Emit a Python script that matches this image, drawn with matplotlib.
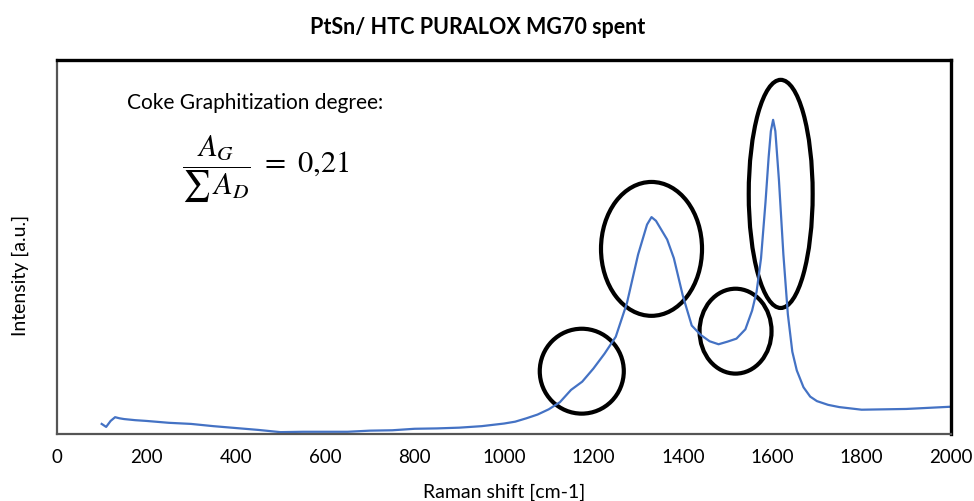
import matplotlib
matplotlib.use("Agg")
from matplotlib import pyplot as plt
from matplotlib.patches import Ellipse

# Raman spectrum (intensity in arbitrary units)
shift = [100, 110, 120, 130, 140, 150, 175, 200, 250, 300, 350, 400, 450, 500,
         550, 600, 650, 700, 750, 800, 850, 900, 950, 1000, 1025, 1050, 1075,
         1100, 1125, 1150, 1175, 1200, 1225, 1250, 1275, 1300, 1310, 1320, 1330,
         1340, 1350, 1365, 1380, 1400, 1420, 1440, 1460, 1480, 1500, 1520, 1540,
         1555, 1565, 1575, 1585, 1592, 1597, 1602, 1607, 1615, 1625, 1635, 1645,
         1655, 1670, 1685, 1700, 1725, 1750, 1800, 1850, 1900, 1950, 2000]
intensity = [2.7, 1.9, 3.5, 4.5, 4.2, 4.0, 3.7, 3.5, 3.0, 2.7, 2.1, 1.6, 1.1, 0.5,
             0.6, 0.6, 0.6, 0.9, 1.0, 1.4, 1.5, 1.7, 2.1, 2.8, 3.3, 4.2, 5.2,
             6.6, 8.5, 11.8, 14.0, 17.5, 21.5, 26.0, 35.0, 48.0, 52.0, 56.0, 58.0,
             57.0, 55.0, 52.0, 47.0, 37.0, 29.0, 26.5, 24.8, 24.0, 24.7, 25.5, 28.0,
             33.0, 38.0, 47.0, 62.0, 74.0, 81.0, 84.0, 81.0, 68.0, 48.0, 32.0, 22.0,
             17.0, 12.5, 10.0, 8.8, 7.8, 7.2, 6.5, 6.6, 6.7, 7.0, 7.3]

# marked regions: centre shift, centre intensity, width, height
ring_x = [1174, 1330, 1518, 1619]
ring_y = [16.8, 49.5, 27.5, 64.2]
ring_w = [188, 226, 161, 143]
ring_h = [22.7, 35.8, 22.7, 61.0]

xticks = list(range(0, 2001, 200))

plt.rcParams['font.family'] = ['Lato', 'DejaVu Sans']

fig = plt.figure(figsize=(9.74, 5.01), dpi=100)
ax = fig.add_axes([0.0585, 0.1337, 0.9179, 0.7465])

ax.plot(shift, intensity, color='#4472C4', lw=1.6)

for cx, cy, w, h in zip(ring_x, ring_y, ring_w, ring_h):
    ax.add_patch(Ellipse((cx, cy), w, h, fill=False, ec='black', lw=3, clip_on=False))

ax.set_xlim(0, 2000)
ax.set_ylim(0, 100)
ax.set_xticks(xticks)
ax.set_yticks([])
ax.tick_params(axis='x', length=0, labelsize=13.5, pad=11)

for side in ['top', 'right']:
    ax.spines[side].set_linewidth(2.4)
    ax.spines[side].set_color('black')
for side in ['left', 'bottom']:
    ax.spines[side].set_linewidth(1.6)
    ax.spines[side].set_color('#555555')

fig.text(0.49, 0.946, 'PtSn/ HTC PURALOX MG70 spent', ha='center', va='center',
         fontsize=15.5, fontweight='bold')
fig.text(0.518, 0.018, 'Raman shift [cm-1]', ha='center', va='center', fontsize=14)
fig.text(0.021, 0.451, 'Intensity [a.u.]', ha='center', va='center', fontsize=14,
         rotation=90)

ax.text(0.078, 0.885, 'Coke Graphitization degree:', transform=ax.transAxes,
        fontsize=15, va='center')
ax.text(0.14, 0.71, r'$\dfrac{A_G}{\sum\, A_D}\ =\ 0{,}21$', transform=ax.transAxes,
        fontsize=22, va='center', math_fontfamily='stix')

fig.savefig('out.png', dpi=100)
